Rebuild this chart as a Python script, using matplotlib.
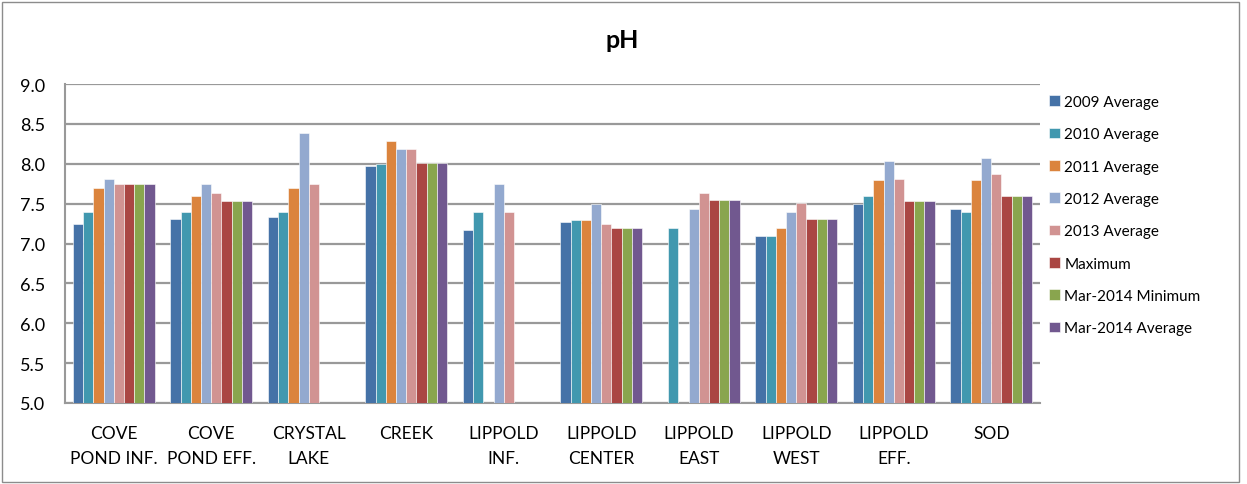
import numpy as np
import matplotlib
matplotlib.use("Agg")
import matplotlib.pyplot as plt
from matplotlib.patches import Rectangle

categories = ["COVE\nPOND INF.", "COVE\nPOND EFF.", "CRYSTAL\nLAKE", "CREEK", "LIPPOLD\nINF.",
              "LIPPOLD\nCENTER", "LIPPOLD\nEAST", "LIPPOLD\nWEST", "LIPPOLD\nEFF.", "SOD"]
nan = np.nan
avg_2009 = [7.24, 7.31, 7.33, 7.97, 7.17, 7.27, nan, 7.09, 7.49, 7.43]
avg_2010 = [7.39, 7.39, 7.39, 8.00, 7.39, 7.29, 7.19, 7.09, 7.59, 7.39]
avg_2011 = [7.69, 7.59, 7.69, 8.29, nan, 7.29, nan, 7.19, 7.79, 7.79]
avg_2012 = [7.81, 7.75, 8.39, 8.19, 7.75, 7.49, 7.43, 7.39, 8.03, 8.07]
avg_2013 = [7.75, 7.63, 7.75, 8.19, 7.39, 7.25, 7.63, 7.51, 7.81, 7.87]
maximum = [7.75, 7.53, nan, 8.01, nan, 7.19, 7.55, 7.31, 7.53, 7.59]
mar2014_min = [7.75, 7.53, nan, 8.01, nan, 7.19, 7.55, 7.31, 7.53, 7.59]
mar2014_avg = [7.75, 7.53, nan, 8.01, nan, 7.19, 7.55, 7.31, 7.53, 7.59]

series_names = ["2009 Average", "2010 Average", "2011 Average", "2012 Average",
                "2013 Average", "Maximum", "Mar-2014 Minimum", "Mar-2014 Average"]
series = [avg_2009, avg_2010, avg_2011, avg_2012, avg_2013, maximum, mar2014_min, mar2014_avg]
colors = ["#4572A7", "#4198AF", "#DB843D", "#93A9CF", "#D19392", "#AA4643", "#89A54E", "#71588F"]
yticks = [5.0, 5.5, 6.0, 6.5, 7.0, 7.5, 8.0, 8.5, 9.0]

plt.rcParams['font.family'] = ['Lato', 'DejaVu Sans']

W, H = 1247, 485
fig = plt.figure(figsize=(W / 100, H / 100), dpi=100)
fig.patches.append(Rectangle((2 / W, 2 / H), 1237 / W, 480 / H, transform=fig.transFigure,
                             fill=False, edgecolor="#8c8c8c", linewidth=1.0))

ax = fig.add_axes([65 / W, (H - 404) / H, (1040 - 65) / W, (404 - 85) / H])
x = np.arange(len(categories))
n = len(series)
group_w = 0.84
bw = group_w / n
base = 5.0
for i, (vals, name, c) in enumerate(zip(series, series_names, colors)):
    v = np.array(vals, dtype=float)
    ax.bar(x - group_w / 2 + bw * (i + 0.5), v - base, bottom=base, width=bw, color=c,
           edgecolor="white", linewidth=0.4, label=name, zorder=3)

ax.set_xlim(-0.5, len(categories) - 0.5)
ax.set_ylim(5.0, 9.0)
ax.set_yticks(yticks)
ax.set_yticklabels([f"{t:.1f}" for t in yticks], fontsize=13)
ax.set_xticks(x)
ax.set_xticklabels(categories, fontsize=12.5, linespacing=1.7)
ax.tick_params(axis='x', length=0, pad=16)
ax.tick_params(axis='y', length=0, pad=14)
ax.grid(axis='y', color="#999999", linewidth=1.6, zorder=0)
for s in ["top", "right"]:
    ax.spines[s].set_visible(False)
ax.spines["left"].set_color("#999999")
ax.spines["bottom"].set_color("#999999")
ax.spines["left"].set_linewidth(1.5)
ax.spines["bottom"].set_linewidth(1.5)

fig.text(622 / W, 1 - 40 / H, "pH", ha="center", va="center", fontsize=18, fontweight="bold")

leg = ax.legend(loc="upper left", bbox_to_anchor=(1043 / W, 1 - 90 / H), bbox_transform=fig.transFigure,
                frameon=False, fontsize=11, handlelength=0.7, handleheight=0.7,
                handletextpad=0.3, labelspacing=1.2, borderaxespad=0)

fig.savefig("out.png", dpi=100)
